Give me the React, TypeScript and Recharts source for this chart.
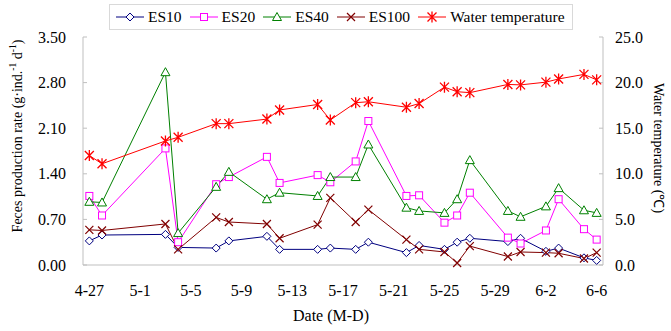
import { LineChart, Line, XAxis, YAxis, Legend, Label } from 'recharts';

const dates = [
  '4-27', '4-28', '5-3', '5-4', '5-7', '5-8', '5-11', '5-12', '5-15', '5-16', '5-18', '5-19',
  '5-22', '5-23', '5-25', '5-26', '5-27', '5-30', '5-31', '6-2', '6-3', '6-5', '6-6',
];
const es10 = [
  0.37, 0.46, 0.47, 0.27, 0.26, 0.37, 0.44, 0.24, 0.24, 0.26, 0.24, 0.35,
  0.19, 0.3, 0.24, 0.35, 0.41, 0.36, 0.41, 0.21, 0.26, 0.11, 0.07,
];
const es20 = [
  1.06, 0.76, 1.79, 0.35, 1.24, 1.35, 1.66, 1.26, 1.38, 1.27, 1.59, 2.21,
  1.06, 1.07, 0.65, 0.76, 1.11, 0.42, 0.33, 0.53, 1.01, 0.55, 0.39,
];
const es40 = [
  0.97, 0.96, 2.96, 0.49, 1.2, 1.43, 1.01, 1.11, 1.06, 1.35, 1.35, 1.85,
  0.88, 0.83, 0.8, 1.01, 1.61, 0.83, 0.74, 0.9, 1.18, 0.84, 0.8,
];
const es100 = [
  0.54, 0.53, 0.63, 0.24, 0.73, 0.66, 0.63, 0.41, 0.62, 1.03, 0.66, 0.85,
  0.39, 0.24, 0.2, 0.03, 0.29, 0.13, 0.2, 0.19, 0.18, 0.1, 0.19,
];
const waterTemp = [
  12.0, 11.1, 13.6, 14.0, 15.5, 15.5, 16.0, 17.0, 17.6, 15.9, 17.8, 17.9,
  17.3, 17.7, 19.5, 19.0, 18.9, 19.8, 19.75, 20.05, 20.4, 20.9, 20.3,
];
const tickLabels = ['4-27', '5-1', '5-5', '5-9', '5-13', '5-17', '5-21', '5-25', '5-29', '6-2', '6-6'];
const rateTicks = [0, 0.7, 1.4, 2.1, 2.8, 3.5];
const tempTicks = [0, 5, 10, 15, 20, 25];

// days counted from 4-27 (April has 30 days, May 31)
const monthStart: Record<number, number> = { 4: 0, 5: 30, 6: 61 };
const dayIndex = (md: string) => {
  const [m, d] = md.split('-').map(Number);
  return monthStart[m] + d - 27;
};

const data = dates.map((d, i) => ({
  day: dayIndex(d),
  es10: es10[i],
  es20: es20[i],
  es40: es40[i],
  es100: es100[i],
  temp: waterTemp[i],
}));

const labelTicks = tickLabels.map(dayIndex);
const labelByDay: Record<number, string> = {};
tickLabels.forEach((t) => (labelByDay[dayIndex(t)] = t));
// small tick marks sit between days, every two days
const minorTicks = Array.from({ length: 20 }, (_, i) => 2 * i + 1.5);

const FONT = '"Liberation Serif", "Times New Roman", serif';
const AXIS = '#bfbfbf';

const series = [
  { key: 'es10', name: 'ES10', color: '#000080', shape: 'diamond', axis: 'rate' },
  { key: 'es20', name: 'ES20', color: '#ff00ff', shape: 'square', axis: 'rate' },
  { key: 'es40', name: 'ES40', color: '#008000', shape: 'triangle', axis: 'rate' },
  { key: 'es100', name: 'ES100', color: '#800000', shape: 'cross', axis: 'rate' },
  { key: 'temp', name: 'Water temperature', color: '#ff0000', shape: 'star', axis: 'temp' },
];

function marker(shape: string, cx: number, cy: number, color: string, key?: string) {
  switch (shape) {
    case 'diamond':
      return (
        <path key={key} d={`M${cx},${cy - 4}L${cx + 4},${cy}L${cx},${cy + 4}L${cx - 4},${cy}Z`}
          fill="#fff" stroke={color} strokeWidth={1} />
      );
    case 'square':
      return <rect key={key} x={cx - 3.5} y={cy - 3.5} width={7} height={7} fill="#fff" stroke={color} strokeWidth={1} />;
    case 'triangle':
      return (
        <path key={key} d={`M${cx},${cy - 4.5}L${cx + 4.5},${cy + 3.5}L${cx - 4.5},${cy + 3.5}Z`}
          fill="#fff" stroke={color} strokeWidth={1} />
      );
    case 'cross':
      return (
        <path key={key} d={`M${cx - 4},${cy - 4}L${cx + 4},${cy + 4}M${cx - 4},${cy + 4}L${cx + 4},${cy - 4}`}
          fill="none" stroke={color} strokeWidth={1.2} />
      );
    default:
      return (
        <path key={key}
          d={`M${cx - 4.5},${cy - 4.5}L${cx + 4.5},${cy + 4.5}M${cx - 4.5},${cy + 4.5}L${cx + 4.5},${cy - 4.5}M${cx},${cy - 5.5}L${cx},${cy + 5.5}`}
          fill="none" stroke={color} strokeWidth={1.3} />
      );
  }
}

const dotFor = (shape: string, color: string) => (p: any) =>
  marker(shape, p.cx, p.cy, color, `${shape}-${p.index}`);

function LegendBox() {
  return (
    <div
      style={{
        display: 'flex', alignItems: 'center', boxSizing: 'border-box', width: 464, height: 26,
        border: '1px solid #d9d9d9', paddingLeft: 6, fontFamily: FONT, fontSize: 15.5, background: '#fff',
        whiteSpace: 'nowrap',
      }}
    >
      {series.map((s) => (
        <div key={s.key} style={{ display: 'flex', alignItems: 'center', marginRight: 8 }}>
          <svg width={28} height={12} style={{ display: 'block' }}>
            <line x1={0} y1={6} x2={28} y2={6} stroke={s.color} strokeWidth={1} />
            {marker(s.shape, 14, 6, s.color)}
          </svg>
          <span style={{ marginLeft: 4, lineHeight: '16px' }}>{s.name}</span>
        </div>
      ))}
    </div>
  );
}

export default function App() {
  return (
    <div style={{ position: 'absolute', left: 0, top: 0, width: 671, height: 331, background: '#fff' }}>
      <LineChart width={671} height={331} data={data} margin={{ top: 37, right: 0, bottom: 0, left: 0 }}>
        <XAxis
          xAxisId="marks" dataKey="day" type="number" domain={[-0.5, 40.5]} ticks={minorTicks}
          interval={0} mirror height={0} tick={false} axisLine={false} tickSize={5}
          tickLine={{ stroke: AXIS }}
        />
        <XAxis
          dataKey="day" type="number" domain={[-0.5, 40.5]} ticks={labelTicks} interval={0}
          tickFormatter={(v: number) => labelByDay[v] ?? ''} height={66} tickLine={false} tickSize={0}
          tickMargin={20} axisLine={{ stroke: AXIS }}
          tick={{ fill: '#000', fontSize: 16, fontFamily: FONT }}
        >
          <Label
            content={({ viewBox }: any) => (
              <text x={viewBox.x + viewBox.width / 2 - 12} y={viewBox.y + 56} textAnchor="middle"
                fontFamily={FONT} fontSize={16} fill="#000">
                Date (M-D)
              </text>
            )}
          />
        </XAxis>
        <YAxis
          yAxisId="rate" orientation="left" width={83} domain={[0, 3.5]} ticks={rateTicks}
          interval={0} tickFormatter={(v: number) => v.toFixed(2)} tickSize={-4} tickMargin={21}
          axisLine={{ stroke: AXIS }} tickLine={{ stroke: AXIS }}
          tick={{ fill: '#000', fontSize: 16, fontFamily: FONT }}
        >
          <Label
            content={({ viewBox }: any) => {
              const x = viewBox.x + 22;
              const y = viewBox.y + viewBox.height / 2 - 15;
              return (
                <text x={x} y={y} textAnchor="middle" transform={`rotate(-90, ${x}, ${y})`}
                  fontFamily={FONT} fontSize={14} fill="#000">
                  Feces production rate (g·ind.
                  <tspan dy={-6} fontSize={9.5}>-1</tspan>
                  <tspan dy={6}> d</tspan>
                  <tspan dy={-6} fontSize={9.5}>-1</tspan>
                  <tspan dy={6}>)</tspan>
                </text>
              );
            }}
          />
        </YAxis>
        <YAxis
          yAxisId="temp" orientation="right" width={68} domain={[0, 25]} ticks={tempTicks}
          interval={0} tickFormatter={(v: number) => v.toFixed(1)} tickSize={-4} tickMargin={16}
          axisLine={{ stroke: AXIS }} tickLine={{ stroke: AXIS }}
          tick={{ fill: '#000', fontSize: 16, fontFamily: FONT }}
        >
          <Label
            content={({ viewBox }: any) => {
              const x = viewBox.x + 51;
              const y = viewBox.y + viewBox.height / 2 - 3;
              return (
                <text x={x} y={y} textAnchor="middle" transform={`rotate(90, ${x}, ${y})`}
                  fontFamily={FONT} fontSize={14} fill="#000">
                  Water temperature (℃)
                </text>
              );
            }}
          />
        </YAxis>
        <Legend
          verticalAlign="middle" align="center" layout="horizontal"
          wrapperStyle={{ left: 109, top: 4, width: 464, height: 26 }}
          content={() => <LegendBox />}
        />
        {series.map((s) => (
          <Line
            key={s.key} yAxisId={s.axis} dataKey={s.key} name={s.name} stroke={s.color} strokeWidth={1}
            dot={dotFor(s.shape, s.color)} activeDot={false} isAnimationActive={false}
          />
        ))}
      </LineChart>
    </div>
  );
}
